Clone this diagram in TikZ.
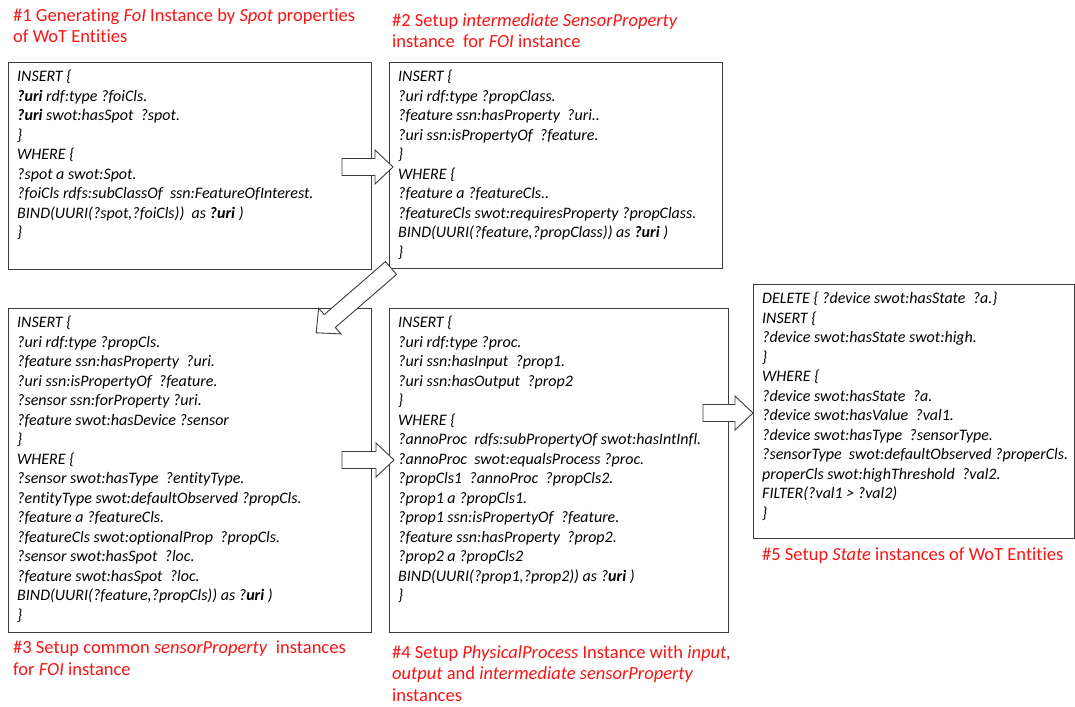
\documentclass[tikz,border=0pt]{standalone}
\usepackage{fontspec}
\setmainfont{Carlito}[Ligatures=NoCommon]
\usetikzlibrary{calc}

\definecolor{captionred}{RGB}{250,20,20}
\definecolor{frame}{RGB}{60,60,60}

\newcommand\codefont{\fontsize{16}{19.5}\selectfont\itshape}
\newcommand\captionfont{\fontsize{18.5}{21.7}\selectfont}

\tikzset{
  querybox/.style={draw=frame, line width=1.3pt, anchor=north west, inner sep=0pt},
  querytext/.style={anchor=north west, inner sep=0pt, align=left, font=\codefont},
  caption/.style={anchor=north west, inner sep=0pt, align=left, text=captionred, font=\captionfont},
  fatarrow/.style={draw=frame, fill=white, line width=0.9pt, line join=miter},
}

% block arrow: tail coordinate, direction angle, length
\newcommand\fatarrow[3]{%
  \draw[fatarrow, shift={(#1)}, rotate=#2]
    (0,-8.5) -- (#3-18,-8.5) -- (#3-18,-17) -- (#3,0) -- (#3-18,17) -- (#3-18,8.5) -- (0,8.5) -- cycle;
}

\begin{document}
\begin{tikzpicture}[x=1pt, y=-1pt]
\fill[white] (0,0) rectangle (1075,706);
\useasboundingbox (0,0) rectangle (1075,706);

% rule frames
\node[querybox, minimum width=363, minimum height=207] (b1) at (8,62) {};
\node[querybox, minimum width=333, minimum height=206] (b2) at (389,62) {};
\node[querybox, minimum width=363, minimum height=324] (b3) at (8,308) {};
\node[querybox, minimum width=339, minimum height=324] (b4) at (389,308) {};
\node[querybox, minimum width=321, minimum height=254] (b5) at (753,284) {};

% SPARQL update rules
\node[querytext] (t1) at ($(b1.north west)+(9,8)$) {%
INSERT \{\\
\textbf{?uri} rdf:type ?foiCls.\\
\textbf{?uri} swot:hasSpot~ ?spot.\\
\}\\
WHERE \{\\
?spot a swot:Spot.\\
?foiCls rdfs:subClassOf~ ssn:FeatureOfInterest.\\
BIND(UURI(?spot,?foiCls))~ as \textbf{?uri} )\\
\}};

\node[querytext] (t2) at ($(b2.north west)+(9,8)$) {%
INSERT \{\\
?uri rdf:type ?propClass.\\
?feature ssn:hasProperty~ ?uri..\\
?uri ssn:isPropertyOf~ ?feature.\\
\}\\
WHERE \{\\
?feature a ?featureCls..\\
?featureCls swot:requiresProperty ?propClass.\\
BIND(UURI(?feature,?propClass)) as \textbf{?uri} )\\
\}};

\node[querytext] (t3) at ($(b3.north west)+(9,8)$) {%
INSERT \{\\
?uri rdf:type ?propCls.\\
?feature ssn:hasProperty~ ?uri.\\
?uri ssn:isPropertyOf~ ?feature.\\
?sensor ssn:forProperty ?uri.\\
?feature swot:hasDevice ?sensor\\
\}\\
WHERE \{\\
?sensor swot:hasType~ ?entityType.\\
?entityType swot:defaultObserved ?propCls.\\
?feature a ?featureCls.\\
?featureCls swot:optionalProp~ ?propCls.\\
?sensor swot:hasSpot~ ?loc.\\
?feature swot:hasSpot~ ?loc.\\
BIND(UURI(?feature,?propCls)) as ?\textbf{uri} )\\
\}};

\node[querytext] (t4) at ($(b4.north west)+(9,8)$) {%
INSERT \{\\
?uri rdf:type ?proc.\\
?uri ssn:hasInput~ ?prop1.\\
?uri ssn:hasOutput~ ?prop2\\
\}\\
WHERE \{\\
?annoProc~ rdfs:subPropertyOf swot:hasIntInfl.\\
?annoProc~ swot:equalsProcess ?proc.\\
?propCls1~ ?annoProc~ ?propCls2.\\
?prop1 a ?propCls1.\\
?prop1 ssn:isPropertyOf~ ?feature.\\
?feature ssn:hasProperty~ ?prop2.\\
?prop2 a ?propCls2\\
BIND(UURI(?prop1,?prop2)) as ?\textbf{uri} )\\
\}};

\node[querytext] (t5) at ($(b5.north west)+(9,8)$) {%
DELETE \{ ?device swot:hasState~ ?a.\}\\
INSERT \{\\
?device swot:hasState swot:high.\\
\}\\
WHERE \{\\
?device swot:hasState~ ?a.\\
?device swot:hasValue~ ?val1.\\
?device swot:hasType~ ?sensorType.\\
?sensorType~ swot:defaultObserved ?properCls.\\
properCls swot:highThreshold~ ?val2.\\
FILTER(?val1 > ?val2)\\
\}};

% step captions
\node[caption] (c1) at (13,8) {\#1 Generating \textit{FoI} Instance by \textit{Spot} properties\\of WoT Entities};
\node[caption] (c2) at (392,13) {\#2 Setup \textit{intermediate SensorProperty}\\instance~ for \textit{FOI} instance};
\node[caption] (c3) at (13,641) {\#3 Setup common \textit{sensorProperty}~ instances\\for \textit{FOI} instance};
\node[caption] (c4) at (392,645) {\#4 Setup \textit{PhysicalProcess} Instance with \textit{input,}\\\textit{output} and \textit{intermediate sensorProperty}\\instances};
\node[caption] (c5) at (762,548) {\#5 Setup \textit{State} instances of WoT Entities};

% flow between the rules
\coordinate (a12) at (342,167);
\coordinate (a23) at (391,268);
\coordinate (a34) at (342,460);
\coordinate (a45) at (703,413);
\fatarrow{a12}{0}{51}
\fatarrow{a23}{220.9}{99}
\fatarrow{a34}{0}{52}
\fatarrow{a45}{0}{50}
\end{tikzpicture}
\end{document}
